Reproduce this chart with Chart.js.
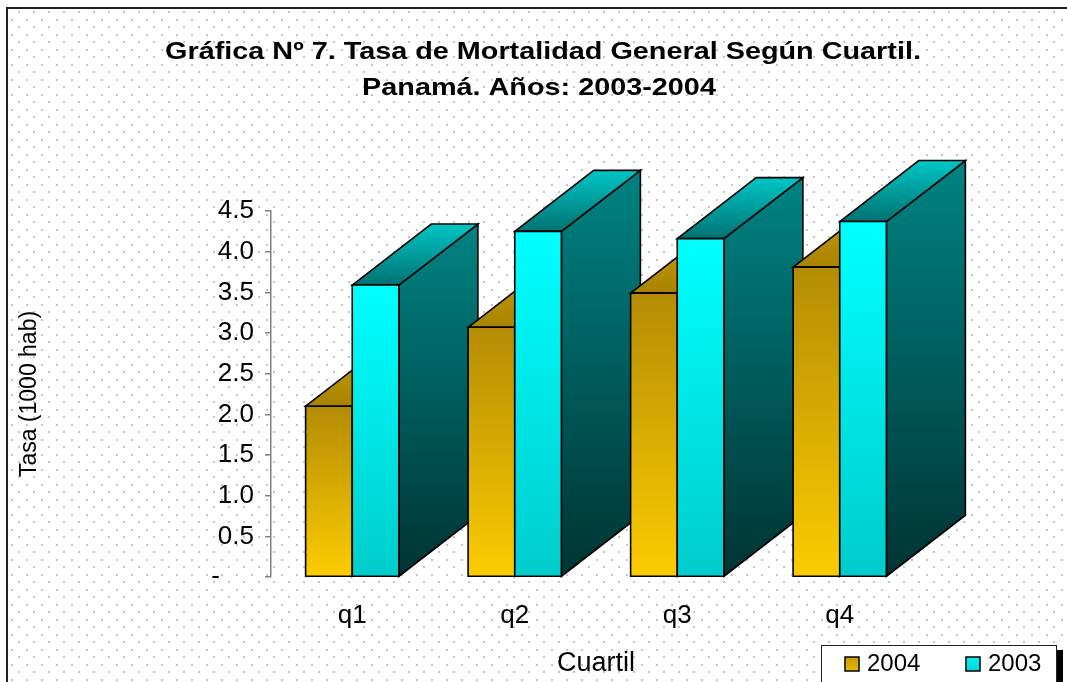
<!DOCTYPE html>
<html><head><meta charset="utf-8">
<script src="https://cdn.jsdelivr.net/npm/chart.js@4.4.1/dist/chart.umd.min.js"></script>
<style>html,body{margin:0;padding:0;background:#fff;} canvas{display:block;}</style>
</head><body>
<canvas id="chart" width="1067" height="682"></canvas>
<script>
// ---- data ----
const categories = ['q1', 'q2', 'q3', 'q4'];
const seriesLabels = ['2004', '2003'];
const tasa2004 = [2.10, 3.07, 3.49, 3.81];
const tasa2003 = [3.59, 4.25, 4.16, 4.37];
const yTickLabels = ['-', '0.5', '1.0', '1.5', '2.0', '2.5', '3.0', '3.5', '4.0', '4.5'];
const titleLines = ['Gráfica Nº 7. Tasa de Mortalidad General Según Cuartil.', 'Panamá. Años: 2003-2004'];
const yAxisTitle = 'Tasa (1000 hab)';
const xAxisTitle = 'Cuartil';

// ---- style ----
const FONT = '"Liberation Sans", Arial, sans-serif';
const DEPTH = { dx: 79, dy: -61 };
const palettes = [
  { front: ['#B48C05', '#FCCC00'], side: ['#7a5e00', '#4a3800'], top: ['#C69E0A', '#A98300'], legend: ['#C89C00', '#E8B800'] },
  { front: ['#00FFFF', '#00CCCC'], side: ['#008383', '#003434'], top: ['#00C6C6', '#007272'], legend: ['#00F4F4', '#00D4D4'] }
];

function vGrad(ctx, y0, y1, c0, c1) {
  const g = ctx.createLinearGradient(0, y0, 0, y1);
  g.addColorStop(0, c0); g.addColorStop(1, c1);
  return g;
}

function drawBox(ctx, left, right, top, bottom, pal) {
  const dx = DEPTH.dx, dy = DEPTH.dy;
  ctx.save();
  ctx.lineWidth = 1.6;
  ctx.strokeStyle = '#000';
  ctx.lineJoin = 'miter';
  // side face
  ctx.beginPath();
  ctx.moveTo(right, top); ctx.lineTo(right + dx, top + dy);
  ctx.lineTo(right + dx, bottom + dy); ctx.lineTo(right, bottom); ctx.closePath();
  ctx.fillStyle = vGrad(ctx, top + dy, bottom, pal.side[0], pal.side[1]);
  ctx.fill(); ctx.stroke();
  // top face
  ctx.beginPath();
  ctx.moveTo(left, top); ctx.lineTo(left + dx, top + dy);
  ctx.lineTo(right + dx, top + dy); ctx.lineTo(right, top); ctx.closePath();
  ctx.fillStyle = vGrad(ctx, top + dy, top, pal.top[0], pal.top[1]);
  ctx.fill(); ctx.stroke();
  // front face
  ctx.beginPath();
  ctx.rect(left, top, right - left, bottom - top);
  ctx.fillStyle = vGrad(ctx, top, bottom, pal.front[0], pal.front[1]);
  ctx.fill(); ctx.stroke();
  ctx.restore();
}

const backdrop = {
  id: 'backdrop',
  beforeDraw(chart) {
    const ctx = chart.ctx, W = chart.width, H = chart.height;
    ctx.save();
    ctx.fillStyle = '#fff';
    ctx.fillRect(0, 0, W, H);
    const tile = document.createElement('canvas');
    tile.width = 15; tile.height = 15;
    const t = tile.getContext('2d');
    t.fillStyle = '#c4c4c4';
    t.fillRect(3, 11, 2, 2);
    t.fillRect(11, 4, 2, 2);
    ctx.fillStyle = ctx.createPattern(tile, 'repeat');
    ctx.fillRect(8, 9, W - 8, H - 9);
    ctx.fillStyle = '#1e1e1e';
    ctx.fillRect(6, 7, 2, H - 7);
    ctx.fillRect(6, 7, W - 6, 2);
    ctx.restore();
  }
};

const bars3d = {
  id: 'bars3d',
  afterDatasetsDraw(chart) {
    const ctx = chart.ctx;
    const n = chart.data.labels.length;
    const nd = chart.data.datasets.length;
    for (let i = 0; i < n; i++) {
      for (let j = 0; j < nd; j++) {
        const el = chart.getDatasetMeta(j).data[i];
        const p = el.getProps(['x', 'y', 'base', 'width'], true);
        drawBox(ctx, p.x - p.width / 2, p.x + p.width / 2, p.y, p.base, palettes[j]);
      }
    }
  }
};

function stretchedText(ctx, text, x, y, font, sx, align) {
  ctx.save();
  ctx.font = font;
  ctx.textAlign = align;
  ctx.textBaseline = 'alphabetic';
  ctx.fillStyle = '#000';
  ctx.translate(x, y);
  ctx.scale(sx, 1);
  ctx.fillText(text, 0, 0);
  ctx.restore();
}

const overlay = {
  id: 'overlay',
  afterDraw(chart) {
    const ctx = chart.ctx;
    // title
    const tf = 'bold 24px ' + FONT;
    stretchedText(ctx, titleLines[0], 543, 59, tf, 1.2, 'center');
    stretchedText(ctx, titleLines[1], 539, 95, tf, 1.2, 'center');
    // legend box
    ctx.save();
    ctx.fillStyle = '#000';
    ctx.fillRect(1057, 650, 6, 40);
    ctx.fillStyle = '#fff';
    ctx.fillRect(821, 645, 236, 45);
    ctx.strokeStyle = '#222';
    ctx.lineWidth = 1;
    ctx.strokeRect(821.5, 645.5, 235, 45);
    const sqX = [845, 966], txX = [867, 988];
    chart.data.datasets.forEach((ds, j) => {
      ctx.fillStyle = vGrad(ctx, 657, 671, palettes[j].legend[0], palettes[j].legend[1]);
      ctx.fillRect(sqX[j], 657, 14, 14);
      ctx.strokeStyle = '#000';
      ctx.lineWidth = 1.5;
      ctx.strokeRect(sqX[j], 657, 14, 14);
      ctx.fillStyle = '#000';
      ctx.font = '24px ' + FONT;
      ctx.textAlign = 'left';
      ctx.textBaseline = 'alphabetic';
      ctx.fillText(ds.label, txX[j], 671);
    });
    ctx.restore();
  }
};

new Chart(document.getElementById('chart'), {
  type: 'bar',
  data: {
    labels: categories,
    datasets: [
      { label: seriesLabels[0], data: tasa2004, backgroundColor: '#E0B000', borderWidth: 0 },
      { label: seriesLabels[1], data: tasa2003, backgroundColor: '#00E0E0', borderWidth: 0 }
    ]
  },
  options: {
    responsive: false,
    animation: false,
    devicePixelRatio: 1,
    layout: { padding: { left: 10, right: 146, top: 211, bottom: 0 } },
    datasets: { bar: { categoryPercentage: 0.574, barPercentage: 1.0 } },
    plugins: { legend: { display: false }, title: { display: false }, tooltip: { enabled: false } },
    scales: {
      x: {
        grid: { display: false },
        border: { display: false },
        ticks: { font: { family: FONT, size: 26 }, color: '#000', padding: 15 },
        title: { display: true, text: xAxisTitle, font: { family: FONT, size: 27 }, color: '#000', padding: { top: 0, bottom: 2 } },
        afterFit(s) { s.height = 105; }
      },
      y: {
        min: 0, max: 4.5,
        ticks: {
          stepSize: 0.5,
          font: { family: FONT, size: 26 }, color: '#000', padding: 11,
          callback: (v) => { const lab = yTickLabels[Math.round(v / 0.5)]; return lab === '-' ? '-    \u2009' : lab; }
        },
        grid: { drawOnChartArea: false, drawTicks: true, tickLength: 6, color: '#808080', lineWidth: 1.5 },
        border: { display: true, color: '#808080', width: 1.5 },
        title: { display: true, text: yAxisTitle, font: { family: FONT, size: 23 }, color: '#000', padding: { top: 6, bottom: 0 } },
        afterFit(s) { s.width = 261; }
      }
    }
  },
  plugins: [backdrop, bars3d, overlay]
});
</script>
</body></html>
